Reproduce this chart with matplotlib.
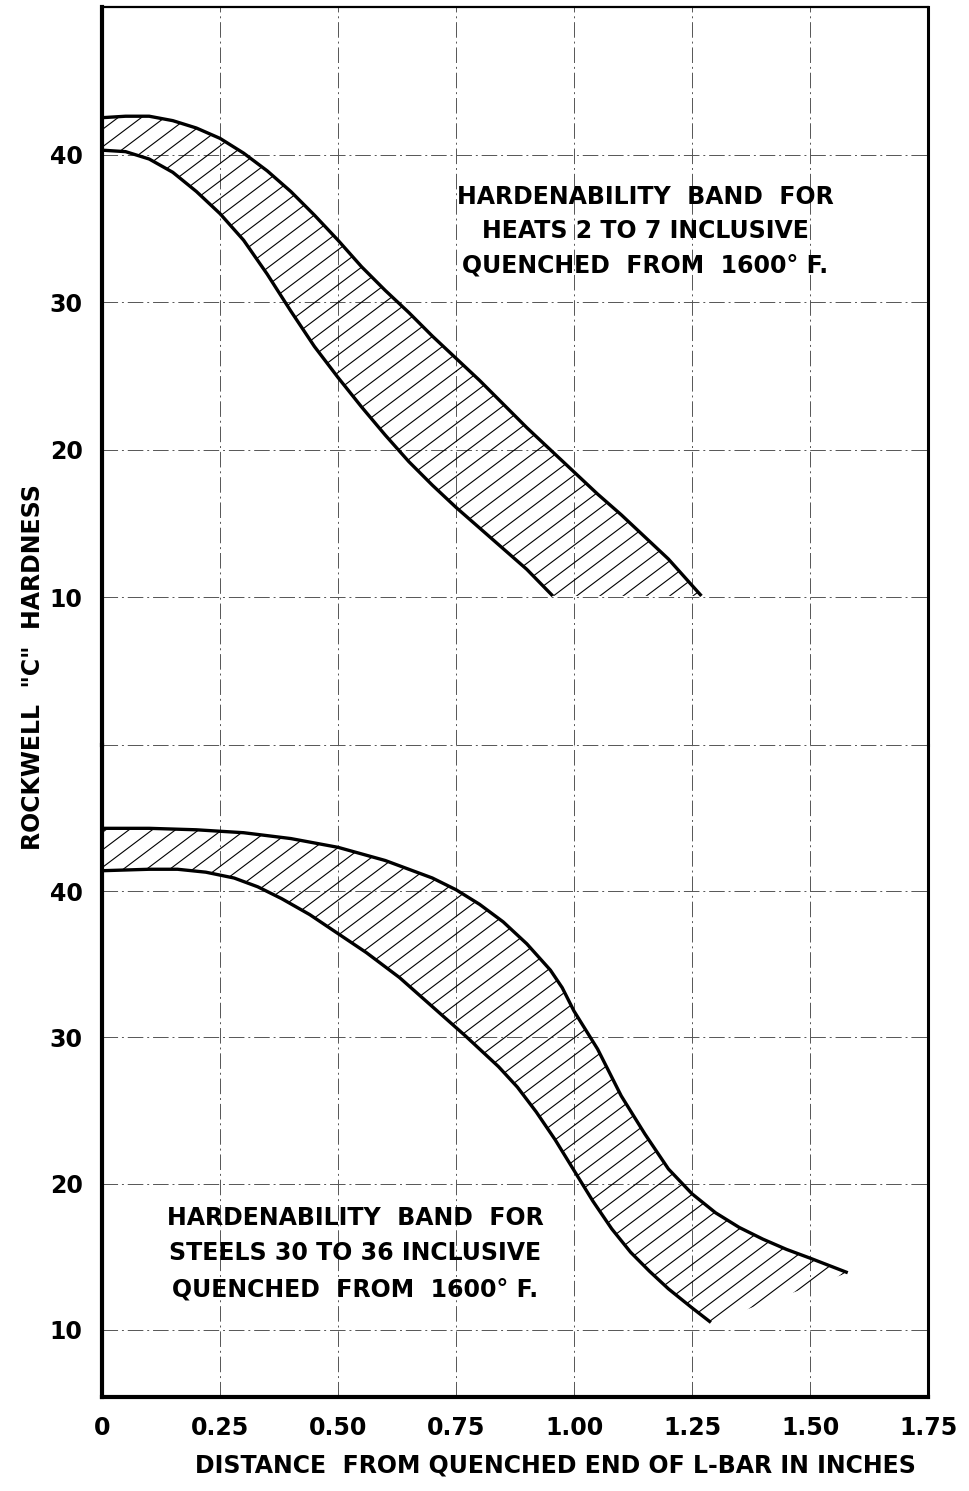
import numpy as np
import matplotlib
matplotlib.use("Agg")
import matplotlib.pyplot as plt
from matplotlib.patches import Polygon
from matplotlib.collections import LineCollection

plt.rcParams['font.family'] = ['DejaVu Sans']

# ---- data: Rockwell C hardness vs distance from quenched end (inches) ----
# Upper panel: heats 2 to 7
heats_x_max = [0.00, 0.05, 0.10, 0.15, 0.20, 0.25, 0.30, 0.35, 0.40, 0.45,
               0.50, 0.55, 0.60, 0.65, 0.70, 0.75, 0.80, 0.85, 0.90, 0.95,
               1.00, 1.05, 1.10, 1.15, 1.20, 1.27]
heats_hrc_max = [42.5, 42.6, 42.6, 42.3, 41.8, 41.1, 40.1, 38.9, 37.5, 35.9,
                 34.2, 32.4, 30.8, 29.3, 27.7, 26.2, 24.7, 23.1, 21.5, 20.0,
                 18.5, 17.0, 15.6, 14.1, 12.6, 10.1]
heats_x_min = [0.00, 0.05, 0.10, 0.15, 0.20, 0.25, 0.30, 0.35, 0.40, 0.45,
               0.50, 0.55, 0.60, 0.65, 0.70, 0.75, 0.80, 0.85, 0.90, 0.955]
heats_hrc_min = [40.3, 40.2, 39.7, 38.8, 37.5, 36.0, 34.2, 31.9, 29.4, 27.0,
                 24.9, 22.9, 21.0, 19.2, 17.6, 16.1, 14.7, 13.3, 11.9, 10.1]

# Lower panel: steels 30 to 36
steels_x_max = [0.00, 0.10, 0.20, 0.30, 0.40, 0.50, 0.60, 0.70, 0.75, 0.80,
                0.85, 0.90, 0.95, 0.975, 1.00, 1.05, 1.10, 1.15, 1.20, 1.25,
                1.30, 1.35, 1.40, 1.45, 1.50, 1.58]
steels_hrc_max = [44.3, 44.3, 44.2, 44.0, 43.6, 43.0, 42.1, 40.9, 40.1, 39.1,
                  37.9, 36.4, 34.6, 33.4, 31.8, 29.2, 26.0, 23.4, 21.0, 19.3,
                  18.0, 17.0, 16.2, 15.5, 14.9, 13.9]
steels_x_min = [0.00, 0.10, 0.16, 0.22, 0.28, 0.33, 0.38, 0.44, 0.50, 0.56,
                0.63, 0.70, 0.77, 0.84, 0.88, 0.92, 0.96, 1.00, 1.04, 1.08,
                1.12, 1.16, 1.20, 1.25, 1.29]
steels_hrc_min = [41.4, 41.5, 41.5, 41.3, 40.9, 40.3, 39.5, 38.4, 37.1, 35.8,
                  34.1, 32.1, 30.1, 28.0, 26.6, 24.9, 23.0, 20.9, 18.8, 16.9,
                  15.3, 14.0, 12.8, 11.5, 10.5]

x_ticks = [0, 0.25, 0.50, 0.75, 1.00, 1.25, 1.50, 1.75]
x_tick_labels = ['0', '0.25', '0.50', '0.75', '1.00', '1.25', '1.50', '1.75']
y_ticks = [10, 20, 30, 40]
y_tick_labels = ['10', '20', '30', '40']

heats_text = ['HARDENABILITY  BAND  FOR', 'HEATS 2 TO 7 INCLUSIVE',
              'QUENCHED  FROM  1600° F.']
steels_text = ['HARDENABILITY  BAND  FOR', 'STEELS 30 TO 36 INCLUSIVE',
               'QUENCHED  FROM  1600° F.']

# ---- figure layout ----
W_PX, H_PX, DPI = 969, 1491, 100
fig = plt.figure(figsize=(W_PX / DPI, H_PX / DPI), dpi=DPI)
fig.patch.set_facecolor('white')


def px(x, y):
    return x / W_PX, 1 - y / H_PX


left, right = 102, 928
ax_top = fig.add_axes([left / W_PX, 1 - 745 / H_PX, (right - left) / W_PX, 738 / H_PX])
ax_bot = fig.add_axes([left / W_PX, 1 - 1397 / H_PX, (right - left) / W_PX, 652 / H_PX])

ax_top.set_ylim(0, 50)
ax_bot.set_ylim(5.4, 50)

FONT = dict(fontweight='bold', fontsize=17, color='black')
grid_style = dict(color='#555555', linewidth=0.7, linestyle=(0, (16, 4, 2, 4)))

for ax in (ax_top, ax_bot):
    ax.set_facecolor('none')
    ax.set_xlim(0, 1.75)
    ax.set_xticks(x_ticks)
    ax.set_yticks(y_ticks)
    ax.set_yticklabels(y_tick_labels, **FONT)
    ax.tick_params(axis='both', length=0)
    ax.tick_params(axis='y', pad=14)
    ax.set_axisbelow(True)
    ax.grid(True, **grid_style)
    ax.spines['left'].set_linewidth(3.0)
    ax.spines['right'].set_linewidth(2.2)

ax_top.set_xticklabels([])
ax_top.spines['bottom'].set_visible(False)
ax_top.spines['top'].set_linewidth(1.6)
# dividing grid line between the two panels
ax_bot.axhline(50, clip_on=False, zorder=1, **grid_style)

ax_bot.spines['top'].set_visible(False)
ax_bot.spines['bottom'].set_linewidth(3.0)
ax_bot.set_xticklabels(x_tick_labels, **FONT)
ax_bot.tick_params(axis='x', pad=14)


def hatch_band(ax, xu, yu, xl, yl, angle_deg=37.0, spacing_px=14.0):
    """Outline a band with heavy curves and fill it with slanted hatch lines."""
    verts = np.column_stack([np.r_[xu, xl[::-1]], np.r_[yu, yl[::-1]]])
    poly = Polygon(verts, closed=True, facecolor='none', edgecolor='none',
                   transform=ax.transData)
    ax.add_patch(poly)

    pos = ax.get_position()
    w = pos.width * W_PX
    h = pos.height * H_PX
    t = np.tan(np.radians(angle_deg))
    step = spacing_px / np.sin(np.radians(angle_deg))
    segs = []
    for x0 in np.arange(-h / t, w + step, step):
        segs.append([(x0 / w, 0.0), ((x0 + h / t) / w, 1.0)])
    lc = LineCollection(segs, colors='black', linewidths=0.8,
                        transform=ax.transAxes, zorder=2)
    ax.add_collection(lc)
    lc.set_clip_path(poly)

    line_kw = dict(color='black', linewidth=2.4, solid_joinstyle='round',
                   solid_capstyle='butt', zorder=3)
    ax.plot(xu, yu, **line_kw)
    ax.plot(xl, yl, **line_kw)


hatch_band(ax_top, np.array(heats_x_max), np.array(heats_hrc_max),
           np.array(heats_x_min), np.array(heats_hrc_min))
hatch_band(ax_bot, np.array(steels_x_max), np.array(steels_hrc_max),
           np.array(steels_x_min), np.array(steels_hrc_min))

# ---- annotations ----
for line, y in zip(heats_text, [197, 231, 266]):
    fig.text(*px(645, y), line, ha='center', va='center', **FONT)
for line, y in zip(steels_text, [1218, 1253, 1290]):
    fig.text(*px(355, y), line, ha='center', va='center', **FONT)

fig.text(*px(33, 667), 'ROCKWELL  "C"  HARDNESS', rotation=90,
         ha='center', va='center', **FONT)
fig.text(*px(555, 1465), 'DISTANCE  FROM QUENCHED END OF L-BAR IN INCHES',
         ha='center', va='center', **FONT)

fig.savefig('out.png', dpi=DPI, facecolor='white')
